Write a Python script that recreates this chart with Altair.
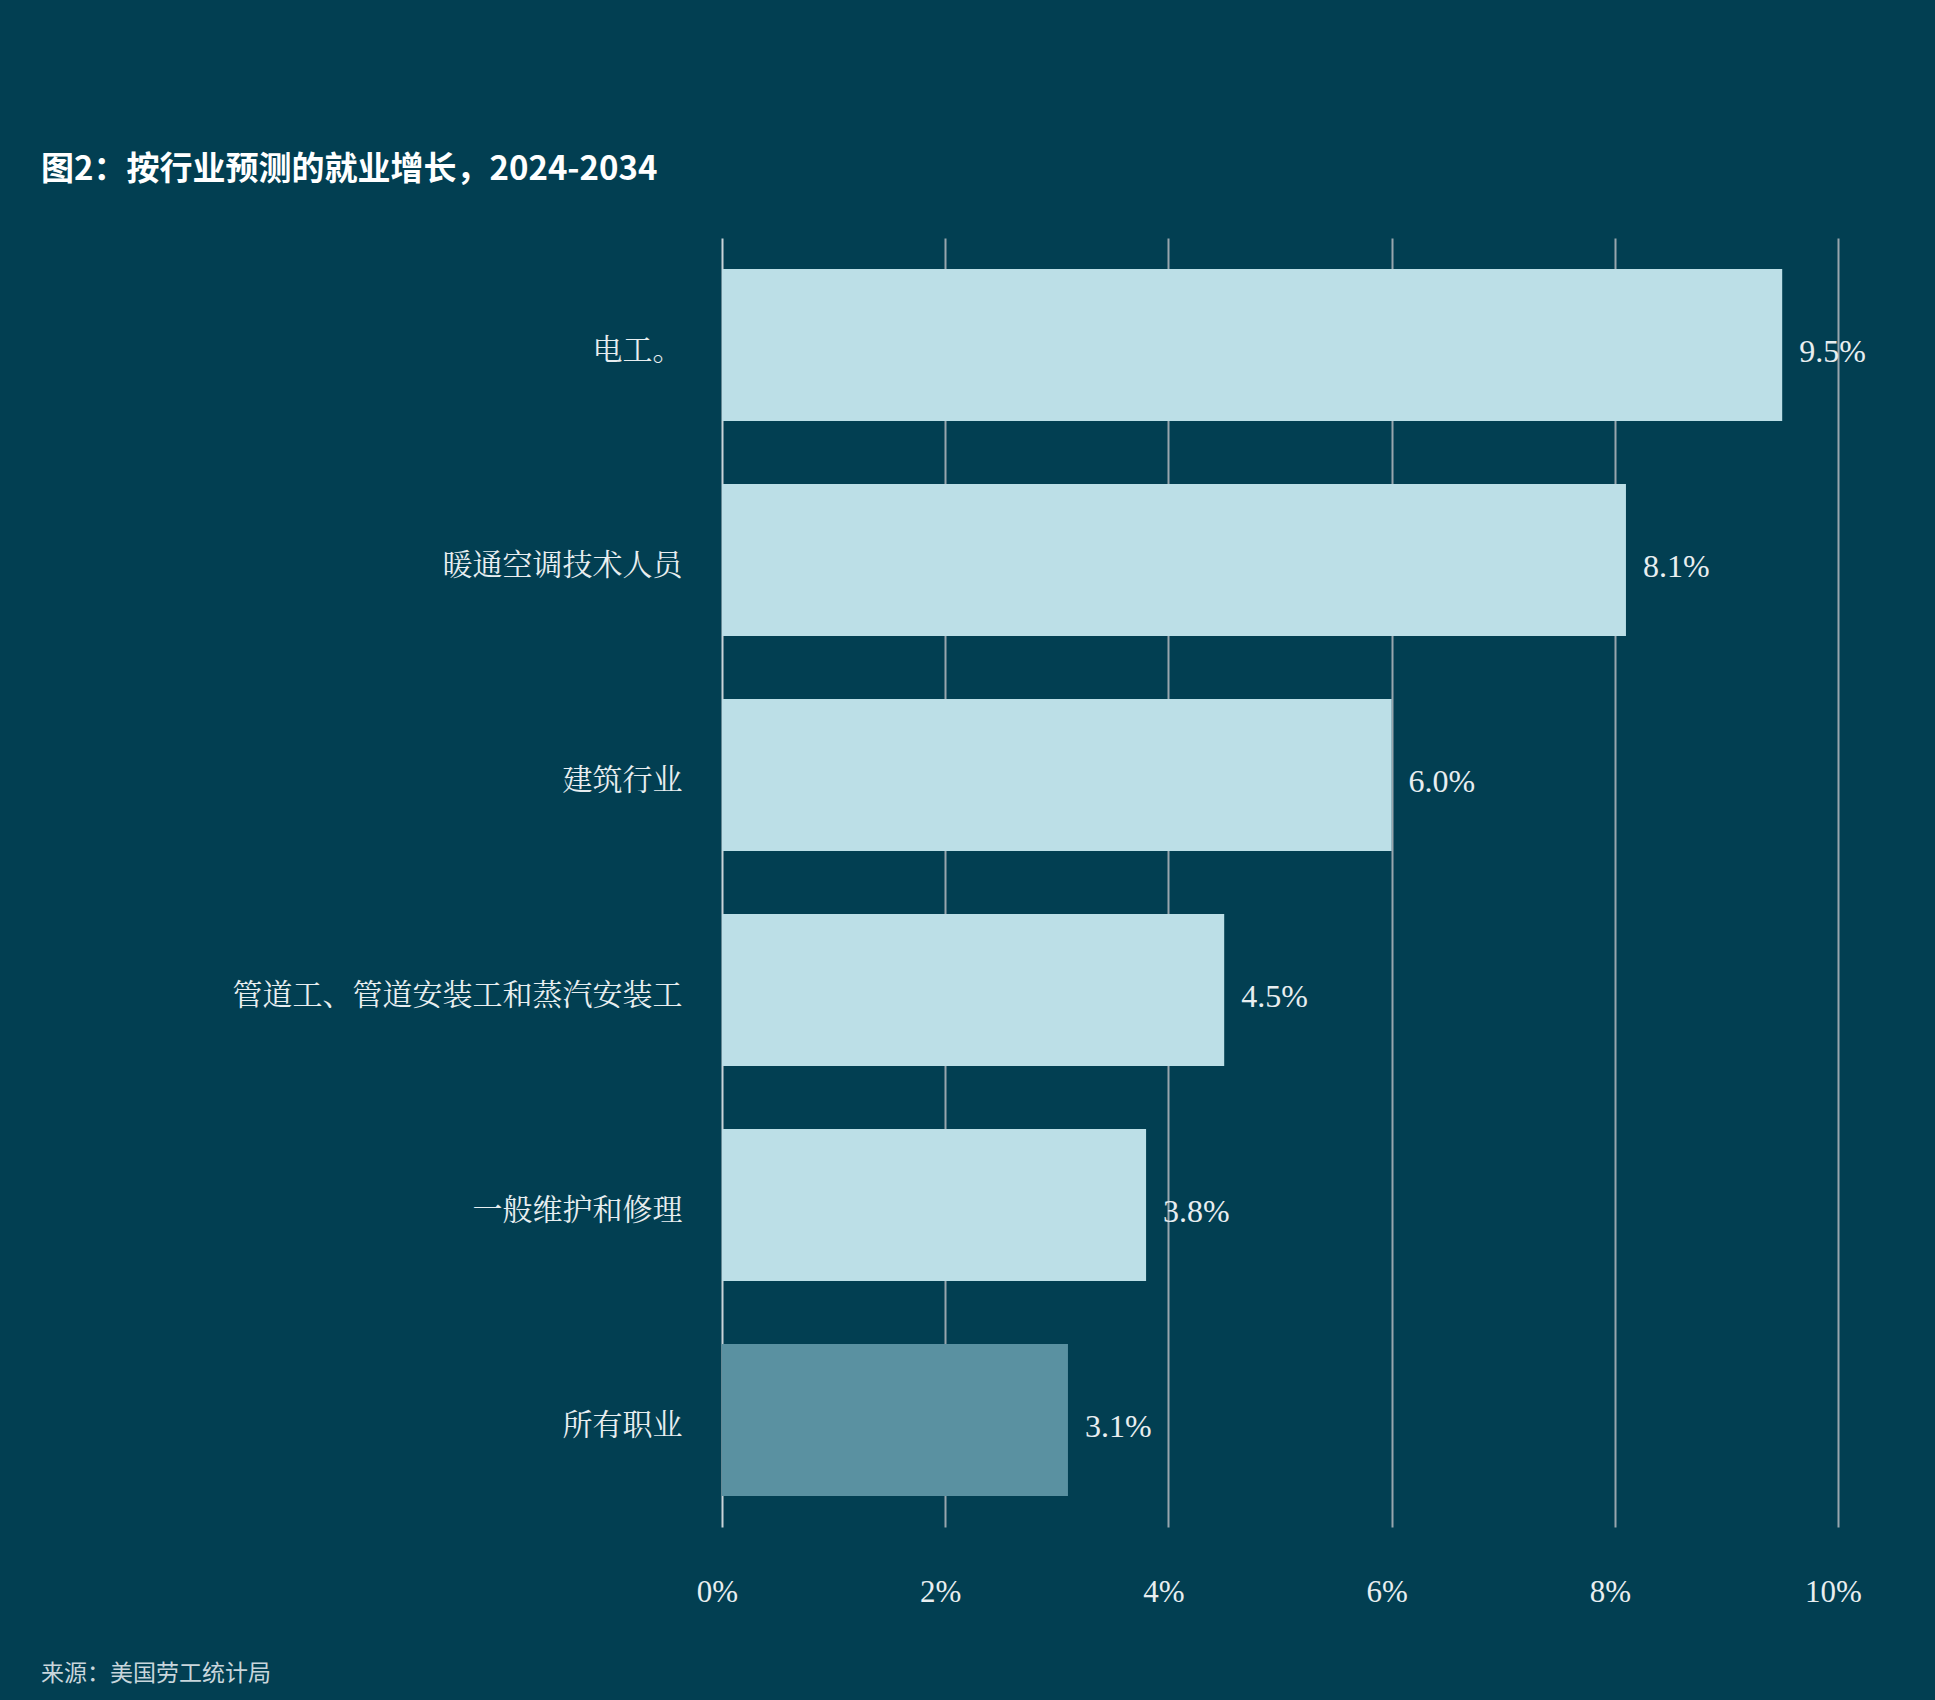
import altair as alt
import pandas as pd

categories = ["电工。", "暖通空调技术人员", "建筑行业", "管道工、管道安装工和蒸汽安装工", "一般维护和修理", "所有职业"]
values = [9.5, 8.1, 6.0, 4.5, 3.8, 3.1]
groups = ["trade", "trade", "trade", "trade", "trade", "all"]
tick_values = [0, 2, 4, 6, 8, 10]
title_text = "图2：按行业预测的就业增长，2024-2034"
source_text = "来源：美国劳工统计局"

BG = "#023f52"
FONT = "Liberation Serif, 'Noto Serif CJK SC', 'Noto Sans CJK SC', serif"
SANS = "'Noto Sans CJK SC', sans-serif"

df = pd.DataFrame({"cat": categories, "val": values, "grp": groups})

W, H = 1116, 1289

y_enc = alt.Y(
    "cat:N",
    sort=categories,
    title=None,
    scale=alt.Scale(paddingInner=0.293, paddingOuter=0.144),
    axis=alt.Axis(
        domain=False, ticks=False, labelFont=FONT, labelFontSize=30,
        labelColor="#e8eef0", labelPadding=40, labelLimit=600, labelOffset=6,
    ),
)
x_enc = alt.X(
    "val:Q",
    title=None,
    scale=alt.Scale(domain=[0, 10], nice=False),
    axis=alt.Axis(
        values=tick_values, labelExpr="datum.value + '%'", domain=False, ticks=False,
        grid=True, labelFlush=False, labelOffset=-5,
        gridColor=alt.condition(alt.datum.value == 0, alt.value("#c9d3d8"), alt.value("#98a6ad")),
        gridWidth=2,
        labelFont=FONT, labelFontSize=31, labelColor="#e8eef0", labelPadding=50,
    ),
)

bars = alt.Chart(df).mark_bar().encode(
    x=x_enc,
    y=y_enc,
    color=alt.Color(
        "grp:N",
        scale=alt.Scale(domain=["trade", "all"], range=["#bcdfe7", "#5a91a1"]),
        legend=None,
    ),
)

labels = alt.Chart(df).transform_calculate(
    lab="format(datum.val, '.1f') + '%'"
).mark_text(
    align="left", baseline="middle", dx=17, dy=7, font=FONT, fontSize=32, color="#e8eef0"
).encode(
    x=alt.X("val:Q"),
    y=alt.Y("cat:N", sort=categories),
    text="lab:N",
)

meta = pd.DataFrame({"t": [title_text], "s": [source_text]})
title = alt.Chart(meta).mark_text(
    align="left", baseline="middle", font=SANS, fontSize=33, fontWeight="bold", color="#ffffff"
).encode(x=alt.value(-681), y=alt.value(-68), text="t:N")
source = alt.Chart(meta).mark_text(
    align="left", baseline="middle", font=SANS, fontSize=23, color="#c8d6dc"
).encode(x=alt.value(-681), y=alt.value(1436), text="s:N")

chart = alt.layer(bars, labels, title, source).properties(
    width=W, height=H,
    background=BG,
    autosize=alt.AutoSizeParams(type="none"),
    padding={"left": 722, "top": 238, "right": 97, "bottom": 173},
).configure_view(stroke=None)

chart.save("out.html", embed_options={"renderer": "svg", "actions": False})
